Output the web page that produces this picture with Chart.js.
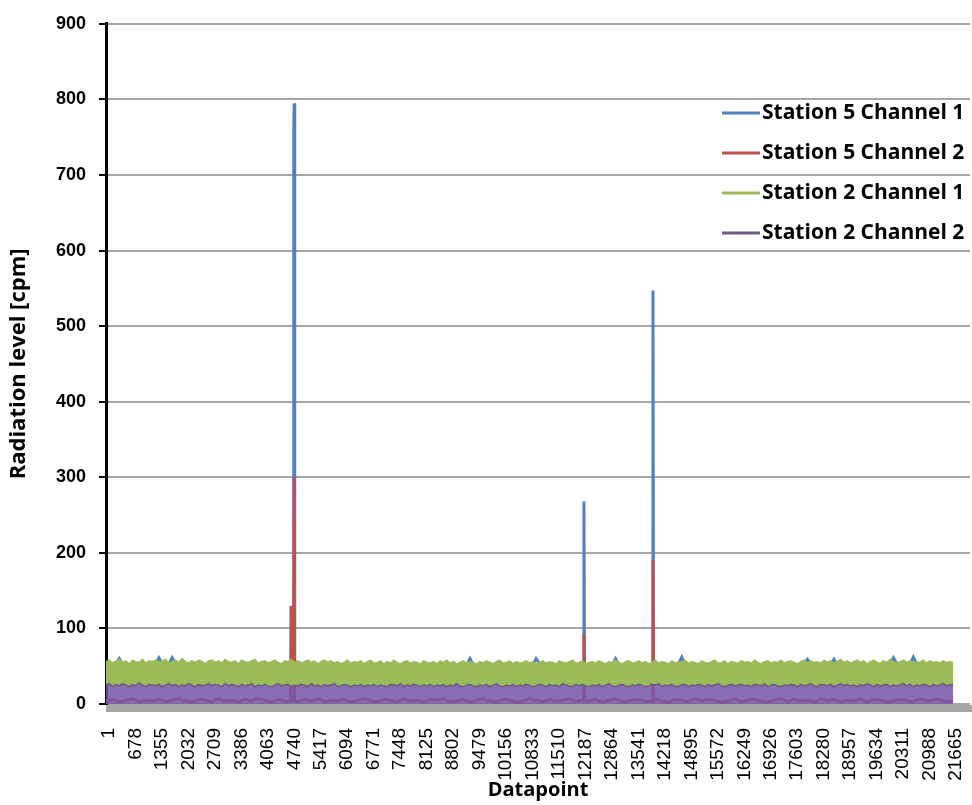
<!DOCTYPE html>
<html>
<head>
<meta charset="utf-8">
<title>Radiation level per datapoint</title>
<script src="https://cdn.jsdelivr.net/npm/chart.js@4"></script>
<style>
    body { margin: 0; background: #ffffff; }
    #wrap { width: 972px; height: 805px; position: relative; }
</style>
</head>
<body>
<div id="wrap"><canvas id="radiationChart"></canvas></div>
<script>
// Series names
const seriesNames = ['Station 5 Channel 1', 'Station 5 Channel 2', 'Station 2 Channel 1', 'Station 2 Channel 2'];

// Tick labels on the datapoint axis
const xTickLabels = [1, 678, 1355, 2032, 2709, 3386, 4063, 4740, 5417, 6094, 6771, 7448, 8125, 8802, 9479,
    10156, 10833, 11510, 12187, 12864, 13541, 14218, 14895, 15572, 16249, 16926, 17603, 18280, 18957,
    19634, 20311, 20988, 21665];

// Station 5 readings are sampled every quarter tick step, Station 2 every eighth
const coarseStep = 677 / 4;
const fineStep = 677 / 8;

// Station 5 Channel 1, background readings
const s5c1 = [
    44, 47, 60, 45, 48, 43, 46, 44, 61, 45,
    61, 46, 43, 47, 44, 48, 45, 43, 46, 44,
    47, 45, 43, 46, 44, 47, 45, 43, 46, 44,
    45, 43, 46, 44, 47, 45, 42, 46, 44, 43,
    45, 43, 46, 44, 42, 45, 47, 43, 45, 44,
    46, 42, 44, 47, 43, 60, 42, 44, 46, 43,
    45, 44, 42, 46, 43, 60, 47, 44, 42, 45,
    43, 46, 44, 42, 45, 47, 43, 60, 44, 46,
    42, 44, 46, 43, 45, 42, 44, 62, 43, 45,
    44, 46, 42, 45, 43, 47, 44, 46, 43, 45,
    47, 44, 42, 46, 44, 48, 59, 45, 47, 44,
    59, 43, 45, 48, 44, 46, 43, 47, 45, 61,
    46, 43, 62, 44, 46, 44, 43, 45, 44
];
// Station 5 Channel 1, peaks (datapoint, cpm)
const s5c1PeakX = [4795, 4803, 4815, 4828, 12212, 12225, 12238, 13977, 13990, 14003];
const s5c1PeakY = [45, 760, 795, 45, 45, 268, 45, 45, 547, 45];

// Station 5 Channel 2, background readings
const s5c2 = [
    4, 6, 3, 5, 7, 3, 5, 4, 6, 3,
    5, 7, 4, 2, 6, 5, 3, 7, 4, 5,
    3, 6, 4, 7, 5, 2, 6, 4, 5, 3,
    6, 4, 7, 3, 5, 4, 6, 2, 5, 7,
    4, 3, 6, 5, 2, 7, 4, 5, 3, 6,
    5, 7, 3, 4, 6, 2, 5, 7, 4, 3,
    6, 5, 2, 4, 7, 5, 3, 6, 4, 5,
    7, 3, 5, 4, 6, 2, 5, 7, 3, 4,
    6, 5, 3, 7, 4, 2, 6, 5, 3, 7,
    4, 6, 5, 2, 4, 7, 3, 5, 6, 4,
    2, 5, 7, 3, 6, 4, 5, 2, 7, 4,
    6, 3, 5, 4, 7, 2, 6, 5, 3, 4,
    6, 5, 3, 7, 4, 5, 6, 3, 4
];
// Station 5 Channel 2, peaks (datapoint, cpm)
const s5c2PeakX = [4720, 4733, 4746, 4798, 4810, 4822, 12212, 12225, 12238, 13977, 13990, 14003];
const s5c2PeakY = [4, 130, 4, 4, 300, 4, 4, 92, 4, 4, 191, 4];

// Station 2 Channel 1
const s2c1 = [
    56, 58, 54, 57, 59, 55, 57, 53, 58, 56, 55, 59, 54, 57, 56, 58,
    55, 57, 59, 54, 56, 58, 55, 60, 56, 54, 57, 55, 58, 56, 53, 57,
    58, 55, 57, 54, 59, 56, 55, 57, 53, 58, 56, 55, 57, 59, 54, 56,
    57, 54, 56, 58, 55, 53, 57, 56, 59, 55, 57, 54, 56, 58, 55, 57,
    53, 56, 58, 55, 57, 54, 56, 53, 55, 58, 54, 56, 55, 57, 53, 56,
    58, 54, 55, 57, 53, 56, 54, 58, 55, 53, 56, 57, 54, 56, 55, 53,
    57, 55, 54, 56, 53, 57, 55, 58, 54, 56, 53, 55, 57, 54, 56, 55,
    53, 56, 54, 57, 55, 53, 56, 58, 54, 55, 57, 53, 56, 54, 55, 57,
    54, 56, 53, 55, 57, 54, 56, 55, 53, 57, 55, 54, 56, 58, 54, 55,
    57, 53, 55, 56, 54, 57, 55, 53, 56, 54, 58, 55, 53, 56, 57, 54,
    55, 57, 54, 56, 53, 55, 58, 54, 56, 55, 53, 57, 54, 56, 55, 58,
    54, 56, 55, 53, 57, 55, 54, 56, 58, 54, 55, 57, 53, 56, 55, 54,
    57, 55, 56, 54, 58, 55, 53, 56, 57, 54, 56, 55, 58, 54, 56, 57,
    55, 53, 56, 58, 54, 57, 55, 56, 54, 58, 55, 57, 54, 56, 59, 55,
    57, 54, 56, 58, 55, 57, 53, 56, 58, 55, 54, 57, 55, 59, 56, 54,
    56, 58, 55, 57, 54, 56, 55, 58, 54, 57, 55, 56, 54, 57, 55, 56,
    55
];

// Station 2 Channel 2
const s2c2 = [
    25, 27, 23, 26, 24, 27, 25, 23, 26, 24, 28, 25, 23, 26, 25, 24,
    26, 23, 25, 27, 24, 26, 23, 25, 24, 27, 25, 23, 26, 24, 25, 27,
    24, 26, 25, 23, 27, 24, 26, 25, 23, 26, 24, 25, 27, 23, 25, 24,
    26, 24, 23, 25, 27, 24, 25, 26, 23, 25, 24, 26, 25, 23, 27, 24,
    25, 23, 26, 24, 25, 27, 23, 24, 26, 25, 23, 25, 24, 26, 23, 25,
    24, 26, 23, 25, 24, 23, 26, 25, 24, 27, 23, 25, 24, 26, 25, 23,
    25, 24, 26, 23, 25, 24, 26, 23, 25, 24, 27, 24, 23, 25, 26, 24,
    23, 25, 24, 26, 23, 25, 27, 24, 23, 25, 24, 26, 23, 25, 24, 26,
    25, 23, 24, 26, 25, 23, 26, 24, 25, 23, 27, 25, 24, 23, 26, 24,
    26, 24, 23, 25, 24, 26, 23, 25, 27, 24, 23, 25, 26, 24, 23, 25,
    24, 26, 25, 23, 24, 26, 25, 27, 23, 25, 24, 26, 23, 24, 25, 26,
    23, 25, 24, 26, 25, 23, 26, 24, 25, 27, 24, 23, 25, 26, 24, 25,
    26, 24, 25, 23, 26, 25, 24, 27, 23, 25, 26, 24, 23, 25, 24, 26,
    25, 23, 26, 24, 25, 27, 24, 23, 26, 25, 24, 26, 23, 25, 27, 24,
    26, 24, 25, 23, 26, 24, 27, 25, 23, 26, 24, 25, 26, 23, 25, 24,
    25, 27, 24, 26, 23, 25, 24, 26, 25, 23, 26, 24, 25, 27, 24, 25,
    26
];

const colors = ['#4F81BD', '#C0504D', '#9BBB59', '#7D5FA8'];

// Turn sampled readings (plus optional peaks) into x/y points sorted by datapoint
function toPoints(values, step, peakX, peakY) {
    const pts = values.map((v, i) => ({ x: 1 + i * step, y: v }));
    if (peakX) {
        peakX.forEach((x, i) => pts.push({ x: x, y: peakY[i] }));
    }
    pts.sort((a, b) => a.x - b.x);
    return pts;
}

// Grey horizontal axis bar under the plot
const axisBar = {
    id: 'axisBar',
    beforeDatasetsDraw(chart) {
        const { ctx, chartArea } = chart;
        ctx.save();
        ctx.fillStyle = '#a6a6a6';
        ctx.fillRect(chartArea.left, chartArea.bottom + 1, chart.width - chartArea.left, 7);
        ctx.restore();
    }
};

// Legend drawn inside the plot, top right
const insideLegend = {
    id: 'insideLegend',
    afterDraw(chart) {
        const ctx = chart.ctx;
        ctx.save();
        ctx.font = 'bold 21px "Open Sans"';
        ctx.textBaseline = 'middle';
        ctx.textAlign = 'left';
        const rows = [113, 153, 193, 233];
        chart.data.datasets.forEach((ds, i) => {
            ctx.strokeStyle = ds.borderColor;
            ctx.lineWidth = 3;
            ctx.beginPath();
            ctx.moveTo(722, rows[i]);
            ctx.lineTo(760, rows[i]);
            ctx.stroke();
            ctx.fillStyle = '#000';
            ctx.fillText(ds.label, 762, rows[i]);
        });
        ctx.restore();
    }
};

const ctx = document.getElementById('radiationChart').getContext('2d');
const radiationChart = new Chart(ctx, {
    type: 'line',
    data: {
        datasets: [
            {
                label: seriesNames[0],
                data: toPoints(s5c1, coarseStep, s5c1PeakX, s5c1PeakY),
                borderColor: colors[0],
                borderWidth: 3,
                fill: false,
                order: 3
            },
            {
                label: seriesNames[1],
                data: toPoints(s5c2, coarseStep, s5c2PeakX, s5c2PeakY),
                borderColor: colors[1],
                borderWidth: 3,
                fill: false,
                order: 2
            },
            {
                label: seriesNames[2],
                data: toPoints(s2c1, fineStep),
                borderColor: colors[2],
                backgroundColor: colors[2],
                borderWidth: 1.5,
                fill: '+1',
                order: 1
            },
            {
                label: seriesNames[3],
                data: toPoints(s2c2, fineStep),
                borderColor: '#6f5a86',
                backgroundColor: 'rgba(118, 86, 168, 0.86)',
                borderWidth: 1.5,
                fill: 'origin',
                order: 0
            }
        ]
    },
    options: {
        responsive: true,
        maintainAspectRatio: false,
        animation: false,
        elements: {
            point: { radius: 0, hoverRadius: 0 },
            line: { tension: 0 }
        },
        layout: {
            padding: { top: 21, right: 2, bottom: 0, left: 0 }
        },
        plugins: {
            legend: { display: false },
            tooltip: { enabled: false }
        },
        scales: {
            x: {
                type: 'linear',
                min: 1,
                max: 22098,
                afterBuildTicks: function(scale) {
                    scale.ticks = xTickLabels.map(v => ({ value: v }));
                },
                afterFit: function(scale) {
                    scale.height = 101;
                    scale.paddingLeft = 0;
                    scale.paddingRight = 0;
                },
                grid: { display: false },
                border: { display: false },
                ticks: {
                    autoSkip: false,
                    minRotation: 90,
                    maxRotation: 90,
                    padding: 16,
                    labelOffset: 3,
                    color: '#000',
                    font: { family: 'Liberation Sans', size: 19 },
                    callback: function(value) { return String(value); }
                },
                title: {
                    display: true,
                    text: 'Datapoint',
                    color: '#000',
                    font: { family: 'Open Sans', size: 20, weight: 'bold' },
                    padding: { top: 0, bottom: 3 }
                }
            },
            y: {
                min: 0,
                max: 900,
                afterFit: function(scale) {
                    scale.width = 106;
                },
                grid: {
                    color: '#a6a6a6',
                    lineWidth: 2,
                    tickColor: '#000',
                    tickLength: 7
                },
                border: { color: '#000', width: 3 },
                ticks: {
                    stepSize: 100,
                    padding: 13,
                    color: '#000',
                    font: { family: 'Liberation Sans', size: 18, weight: 'bold' }
                },
                title: {
                    display: true,
                    text: 'Radiation level [cpm]',
                    color: '#000',
                    font: { family: 'Open Sans', size: 22, weight: 'bold' },
                    padding: { top: 6, bottom: 0 }
                }
            }
        }
    },
    plugins: [axisBar, insideLegend]
});
</script>
</body>
</html>
